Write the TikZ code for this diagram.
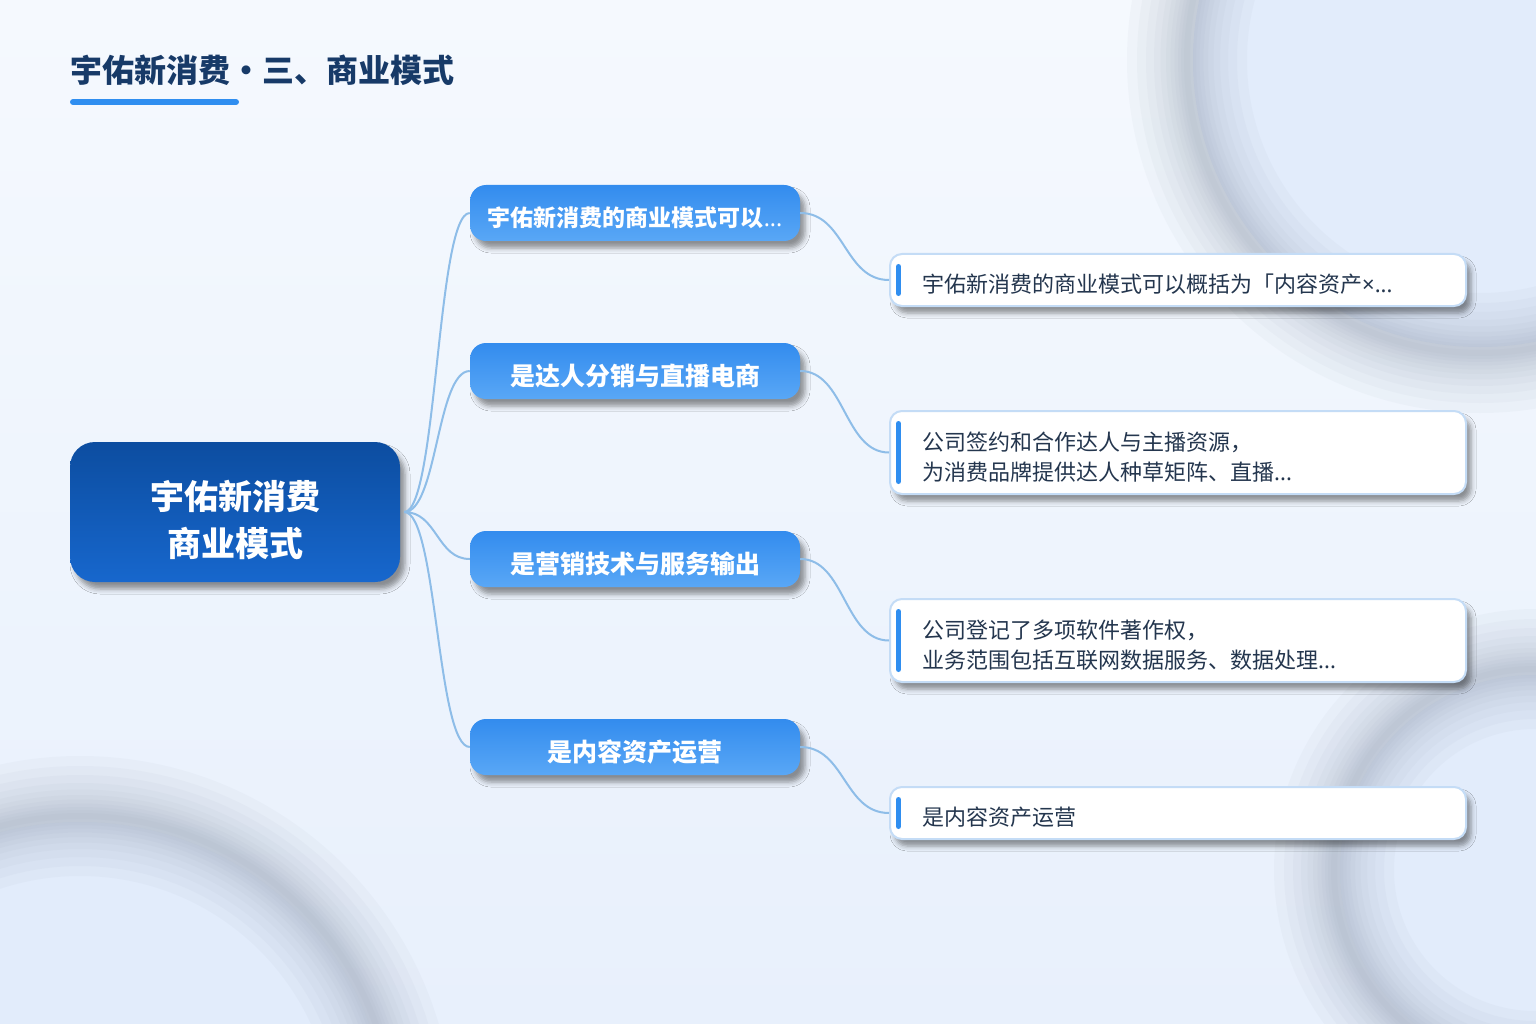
\documentclass[tikz,border=0pt]{standalone}
\usepackage{fontspec}
\setmainfont{Noto Sans CJK SC}
\newfontfamily\latinfont{Noto Sans}
\usetikzlibrary{shadows.blur}
\definecolor{bgtop}{HTML}{F5F9FE}
\definecolor{bgbot}{HTML}{E8F0FC}
\definecolor{disccol}{HTML}{E2ECFB}
\definecolor{ringcol}{HTML}{8A96AA}
\definecolor{titlecol}{HTML}{173A68}
\definecolor{accent}{HTML}{2F8EF0}
\definecolor{rootA}{HTML}{0C4DA0}
\definecolor{rootB}{HTML}{1767CD}
\definecolor{brA}{HTML}{338CEE}
\definecolor{brB}{HTML}{59A7F6}
\definecolor{leafborder}{HTML}{C4DCF6}
\definecolor{leaftxt}{HTML}{24364E}
\definecolor{conncol}{HTML}{8EBDE8}
\begin{document}
\begin{tikzpicture}[x=1pt,y=-1pt,
  softshadow/.style={blur shadow={shadow xshift=5pt,shadow yshift=-7pt,shadow blur radius=5pt,shadow opacity=42}},
  rootbox/.style={rounded corners=25pt,minimum width=330pt,minimum height=140pt,inner sep=0pt,top color=rootA,bottom color=rootB,draw=none,softshadow},
  roottext/.style={text=white,font=\bfseries\fontsize{34}{47}\selectfont,align=center,inner sep=0pt},
  brbox/.style={rounded corners=16pt,minimum width=330pt,minimum height=56pt,inner sep=0pt,top color=brA,bottom color=brB,draw=none,softshadow},
  brtext/.style={text=white,font=\bfseries\fontsize{25}{28}\selectfont,inner sep=0pt},
  leafbox/.style={rounded corners=12pt,draw=leafborder,line width=2pt,fill=white,minimum width=576pt,inner sep=0pt,softshadow},
  leaftext/.style={text=leaftxt,font=\fontsize{22}{30}\selectfont,align=left,anchor=west,inner sep=0pt},
  bar/.style={draw=accent,line width=5pt,line cap=round},
  conn/.style={draw=conncol,line width=2pt}
]
\useasboundingbox (0,0) rectangle (1536,1024);
% background
\begin{scope}
\clip (0,0) rectangle (1536,1024);
\shade[top color=bgtop,bottom color=bgbot] (0,0) rectangle (1536,1024);
\foreach \cx/\cy/\r in {1480/60/287, 80/1130/308, 1535/870/195}{
  \fill[disccol] (\cx,\cy) circle[radius=\r];
}
\foreach \cx/\cy/\r in {1480/60/293, 80/1130/314, 1535/870/201}{
  \foreach \w in {120,100,82,66,53,42,33,25,18,12,6}{
    \draw[ringcol,line width=\w pt,opacity=0.05] (\cx,\cy) circle[radius=\r];
  }
}
\end{scope}
% title
\node[anchor=west,inner sep=0pt,text=titlecol,font=\bfseries\fontsize{32}{36}\selectfont] (title) at (70,70) {宇佑新消费・三、商业模式};
\draw[accent,line width=6pt,line cap=round] (73,102) -- (236,102);
% root
\node[rootbox] (c) at (235,512) {};
\node[roottext] (ct) at (235,520) {宇佑新消费\\商业模式};
% branches
\node[brbox] (b1) at (635,213) {};
\node[brtext,font=\bfseries\fontsize{23}{28}\selectfont] (b1t) at (635,218) {宇佑新消费的商业模式可以{\latinfont\bfseries...}};
\node[brbox] (b2) at (635,371) {};
\node[brtext] (b2t) at (635,376) {是达人分销与直播电商};
\node[brbox] (b3) at (635,559) {};
\node[brtext] (b3t) at (635,564) {是营销技术与服务输出};
\node[brbox] (b4) at (635,747) {};
\node[brtext] (b4t) at (635,752) {是内容资产运营};
% leaves
\node[leafbox,minimum height=52pt] (l1) at (1178,280) {};
\node[leaftext] (l1t) at (922,284) {宇佑新消费的商业模式可以概括为「内容资产{\latinfont ×...}};
\node[leafbox,minimum height=83pt] (l2) at (1178,452.5) {};
\node[leaftext] (l2t) at (922,457.5) {公司签约和合作达人与主播资源，\\为消费品牌提供达人种草矩阵、直播{\latinfont...}};
\node[leafbox,minimum height=83pt] (l3) at (1178,640.5) {};
\node[leaftext] (l3t) at (922,645.5) {公司登记了多项软件著作权，\\业务范围包括互联网数据服务、数据处理{\latinfont...}};
\node[leafbox,minimum height=52pt] (l4) at (1178,813) {};
\node[leaftext] (l4t) at (922,817) {是内容资产运营};
\foreach \n in {l1,l2,l3,l4}{
  \draw[bar] ([xshift=9.5pt,yshift=-13.5pt]\n.north west) -- ([xshift=9.5pt,yshift=13.5pt]\n.south west);
}
% connectors
\foreach \b in {b1,b2,b3,b4}{
  \draw[conn] ([xshift=4pt]c.east) .. controls +(33,0) and +(-33,0) .. (\b.west);
}
\draw[conn] (b1.east) .. controls +(45,0) and +(-45,0) .. (l1.west);
\draw[conn] (b2.east) .. controls +(45,0) and +(-45,0) .. (l2.west);
\draw[conn] (b3.east) .. controls +(45,0) and +(-45,0) .. (l3.west);
\draw[conn] (b4.east) .. controls +(45,0) and +(-45,0) .. (l4.west);
\end{tikzpicture}
\end{document}
